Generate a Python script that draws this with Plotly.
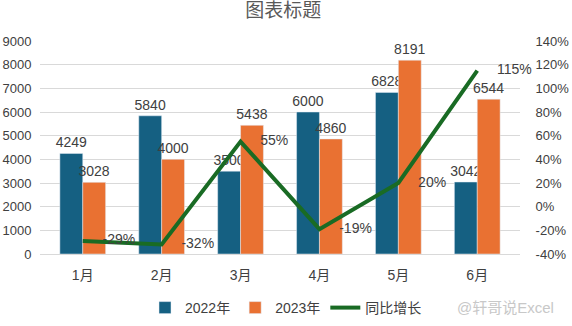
import plotly.graph_objects as go

months = ["1月", "2月", "3月", "4月", "5月", "6月"]
sales_2022 = [4249, 5840, 3500, 6000, 6828, 3042]
sales_2023 = [3028, 4000, 5438, 4860, 8191, 6544]
growth = [-29, -32, 55, -19, 20, 115]
left_ticks = [0, 1000, 2000, 3000, 4000, 5000, 6000, 7000, 8000, 9000]
right_ticks = [-40, -20, 0, 20, 40, 60, 80, 100, 120, 140]

FONT = "Liberation Sans, Noto Sans CJK SC, sans-serif"
TXT = "#404040"
CLEAR = "rgba(0,0,0,0)"

fig = go.Figure()
fig.add_trace(go.Bar(
    x=months, y=sales_2022, name="2022年", marker_color="#156082",
    text=sales_2022, textposition="outside", cliponaxis=False, constraintext="none",
    textfont=dict(size=14, color=TXT, family=FONT),
))
fig.add_trace(go.Bar(
    x=months, y=sales_2023, name="2023年", marker_color="#E97132",
    text=sales_2023, textposition="outside", cliponaxis=False, constraintext="none",
    textfont=dict(size=14, color=TXT, family=FONT),
))
fig.add_trace(go.Scatter(
    x=months, y=growth, name="同比增长", yaxis="y2", mode="lines+markers+text",
    line=dict(color="#196B24", width=4),
    marker=dict(size=30, color=CLEAR, line=dict(width=0)),
    text=[f"{g}%" for g in growth], textposition="middle right",
    textfont=dict(size=14, color=TXT, family=FONT), cliponaxis=False,
))

fig.update_layout(
    width=572, height=326,
    margin=dict(l=40, r=52, t=41, b=72),
    paper_bgcolor="white", plot_bgcolor="white",
    font=dict(family=FONT, size=14, color=TXT),
    barmode="group", bargap=0.42, bargroupgap=0,
    title=dict(text="图表标题", x=0.495, xanchor="center", y=1 - 10 / 326, yanchor="middle",
               font=dict(size=19, color="#595959", family=FONT)),
    xaxis=dict(showgrid=False, showline=True, linecolor="#D9D9D9", automargin=False,
               ticks="outside", ticklen=8, tickcolor=CLEAR,
               tickfont=dict(size=14, color=TXT)),
    yaxis=dict(range=[0, 9000], tickvals=left_ticks, showgrid=True, gridcolor="#D9D9D9",
               zeroline=False, ticks="outside", ticklen=5, tickcolor=CLEAR, automargin=False,
               tickfont=dict(size=13, color=TXT)),
    yaxis2=dict(range=[-40, 140], tickvals=right_ticks, ticktext=[f"{t}%" for t in right_ticks],
                overlaying="y", side="right", showgrid=False, zeroline=False, automargin=False,
                ticks="outside", ticklen=12, tickcolor=CLEAR,
                tickfont=dict(size=13, color=TXT)),
    legend=dict(orientation="h", x=0.5, xanchor="center", xref="container",
                y=1 - 308 / 326, yanchor="middle", yref="container",
                font=dict(size=14, color=TXT), traceorder="normal", itemwidth=30),
    showlegend=True,
)
fig.add_annotation(text="@轩哥说Excel", xref="paper", yref="paper",
                   x=(505 - 40) / 480, y=(254 - 307) / 213, xanchor="center", yanchor="middle",
                   showarrow=False, font=dict(size=15, color="#C8C8C8", family=FONT))

fig.write_html("out.html")
